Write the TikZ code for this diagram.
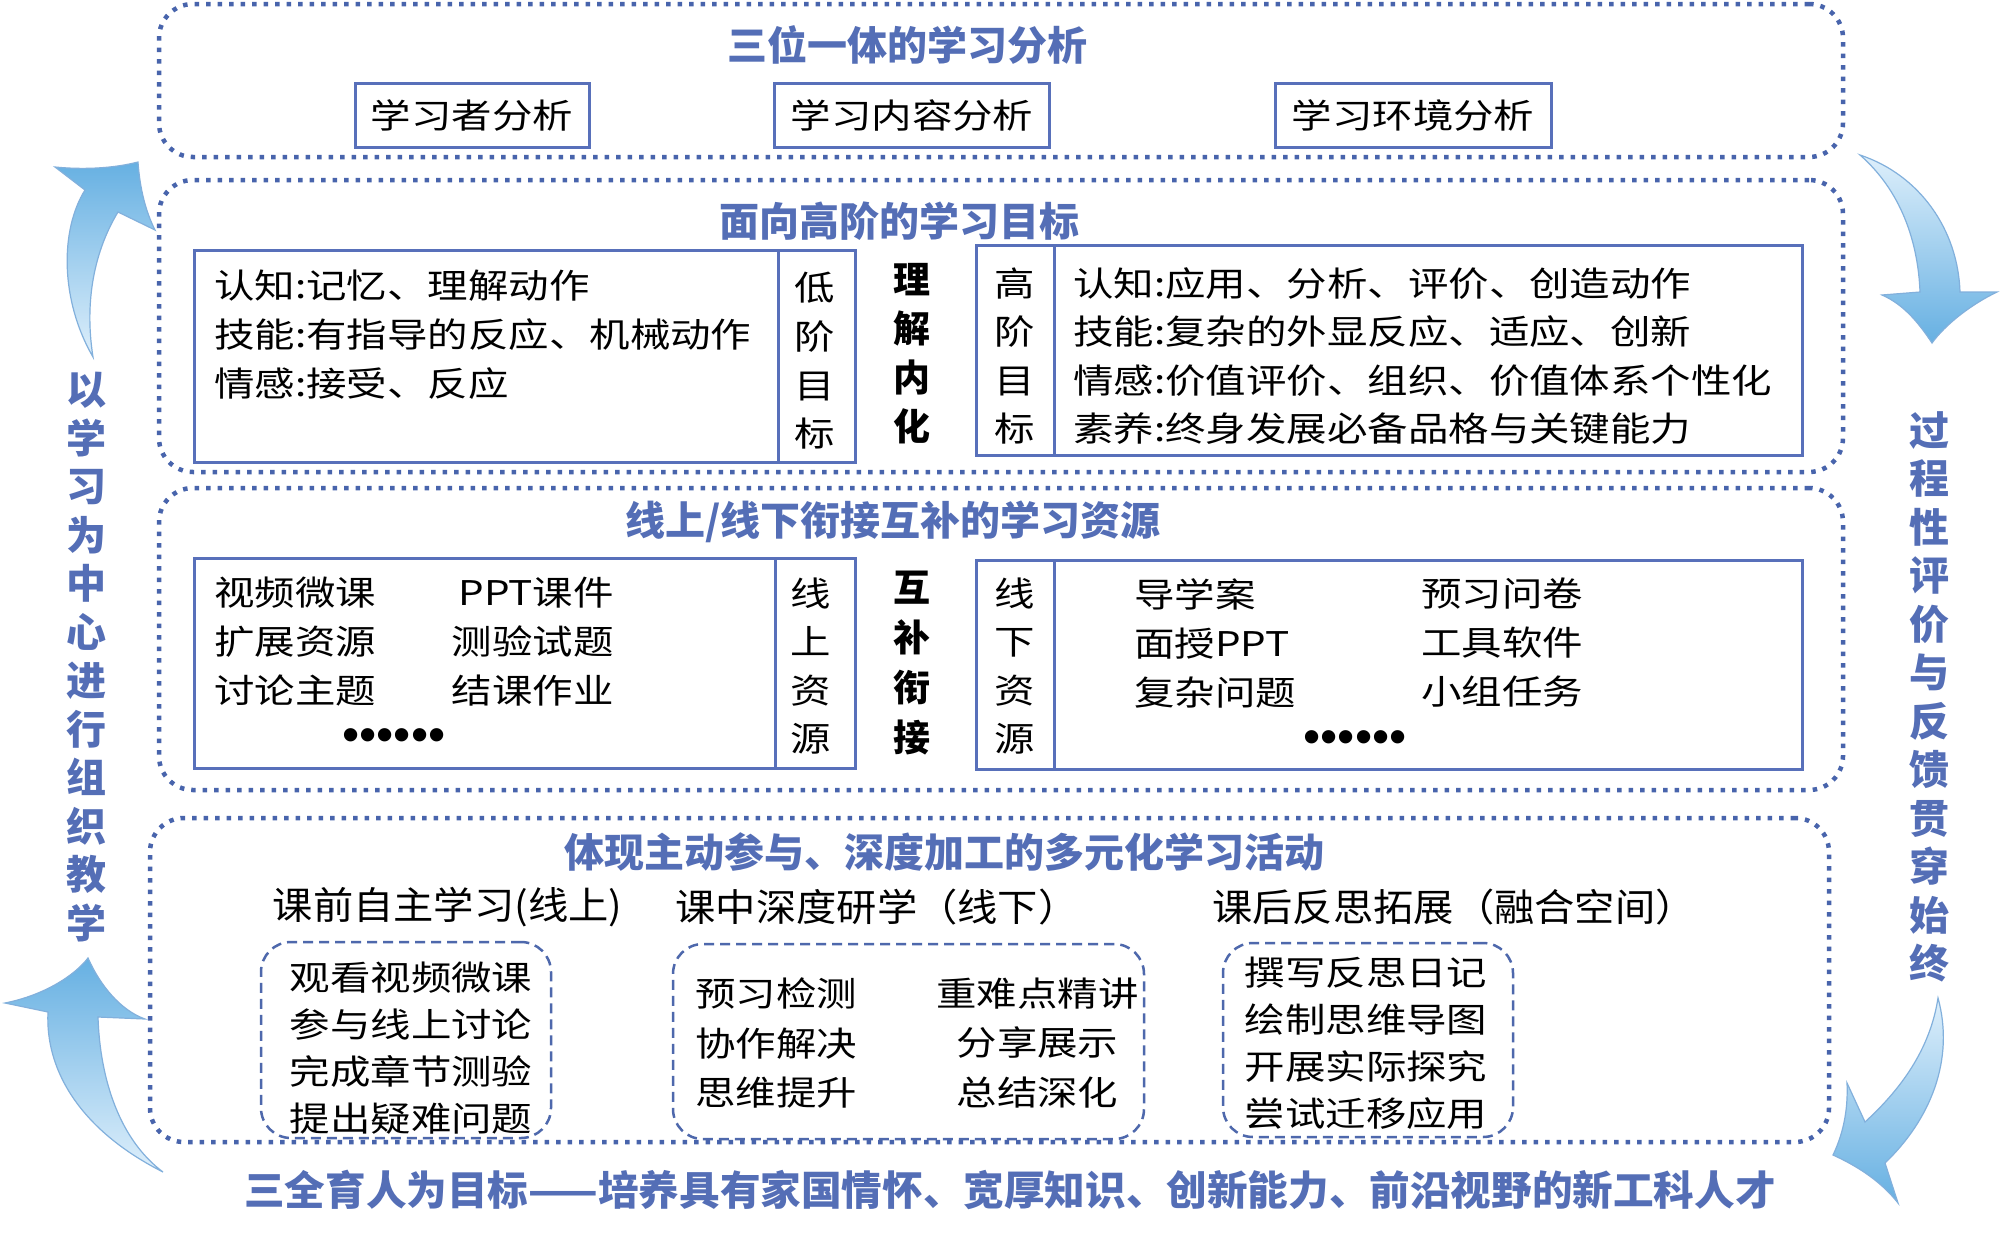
\documentclass[tikz,border=0pt]{standalone}
\usepackage{fontspec}
\newfontfamily\cjk{Noto Sans CJK SC}
\newfontfamily\cjkw[FakeStretch=1.19]{Noto Sans CJK SC}
\newfontfamily\cjks[FakeStretch=1.06]{Noto Sans CJK SC}
\newfontfamily\dotfont{Liberation Sans}
\definecolor{titleblue}{RGB}{84,110,182}
\definecolor{dotblue}{RGB}{72,100,172}
\definecolor{boxblue}{RGB}{88,112,186}
\definecolor{dashblue}{RGB}{78,104,172}
\definecolor{arrowhead}{RGB}{102,176,226}
\definecolor{arrowtail}{RGB}{222,239,251}
\definecolor{arrowedge}{RGB}{130,176,220}
\begin{document}
\begin{tikzpicture}[x=1pt,y=-1pt,
  outer/.style={draw=dotblue, line width=4.5pt, dash pattern=on 4.5pt off 7pt, rounded corners=34pt, inner sep=0pt},
  ibox/.style={draw=boxblue, line width=3pt, inner sep=0pt},
  dbox/.style={draw=dashblue, line width=2.5pt, dash pattern=on 10pt off 6pt, rounded corners=30pt, inner sep=0pt},
  ttl/.style={font=\fontsize{40}{48}\cjk\bfseries, text=titleblue, inner sep=0pt},
  body/.style={font=\fontsize{34}{#1}\cjkw, inner sep=0pt, align=left},
  cbody/.style={font=\fontsize{34}{#1}\cjkw, inner sep=0pt, align=center},
  rbody/.style={font=\fontsize{34}{#1}\cjkw, inner sep=0pt, align=right},
  keyw/.style={font=\fontsize{37}{#1}\cjk\bfseries, inner sep=0pt, align=center},
  sub/.style={font=\fontsize{38}{44}\cjks, inner sep=0pt},
  side/.style={font=\fontsize{40}{48.5}\cjk\bfseries, text=titleblue, align=center, inner sep=0pt},
  dots/.style={font=\fontsize{49}{56}\dotfont, inner sep=0pt},
  bigarrow/.style={draw=arrowedge, line width=1.2pt}
]
\fill[white] (0,0) rectangle (2000,1237);

% ---------- outer dotted panels ----------
\node[outer, minimum width=1684pt, minimum height=153pt] (o1) at (1001,80.5) {};
\node[outer, minimum width=1684pt, minimum height=292pt] (o2) at (1001,326) {};
\node[outer, minimum width=1684pt, minimum height=302pt] (o3) at (1001,639) {};
\node[outer, minimum width=1679pt, minimum height=324pt] (o4) at (989.5,980) {};

% ---------- panel 1 ----------
\node[ttl] (t1) at (907,45) {三位一体的学习分析};
\node[ibox, minimum width=234pt, minimum height=64pt, font=\fontsize{34}{40}\cjkw] (a1) at (472,115) {学习者分析};
\node[ibox, minimum width=275pt, minimum height=64pt, font=\fontsize{34}{40}\cjkw] (a2) at (912,115) {学习内容分析};
\node[ibox, minimum width=276pt, minimum height=64pt, font=\fontsize{34}{40}\cjkw] (a3) at (1413,115) {学习环境分析};

% ---------- panel 2 ----------
\node[ttl] (t2) at (899,221) {面向高阶的学习目标};
\node[ibox, minimum width=661pt, minimum height=212pt] (gl) at (524.5,356) {};
\draw[boxblue, line width=3pt] (778,250) -- (778,462);
\node[ibox, minimum width=826pt, minimum height=210pt] (gr) at (1389,350) {};
\draw[boxblue, line width=3pt] (1054,245) -- (1054,455);
\node[body=49, anchor=west] (glt) at (214,335) {认知:记忆、理解动作\\技能:有指导的反应、机械动作\\情感:接受、反应};
\node[cbody=48.7] (low) at (815,361) {低\\阶\\目\\标};
\node[keyw=49] (k1) at (912,354) {理\\解\\内\\化};
\node[cbody=48.3] (high) at (1015,356) {高\\阶\\目\\标};
\node[body=48.3, anchor=west] (grt) at (1073,356) {认知:应用、分析、评价、创造动作\\技能:复杂的外显反应、适应、创新\\情感:价值评价、组织、价值体系个性化\\素养:终身发展必备品格与关键能力};

% ---------- panel 3 ----------
\node[ttl] (t3) at (893,522) {线上/线下衔接互补的学习资源};
\node[ibox, minimum width=661pt, minimum height=210pt] (rl) at (524.5,663) {};
\draw[boxblue, line width=3pt] (775,558) -- (775,768);
\node[ibox, minimum width=826pt, minimum height=209pt] (rr) at (1389,664.5) {};
\draw[boxblue, line width=3pt] (1054,560) -- (1054,769);
\node[body=49, anchor=west] (rl1) at (214,642) {视频微课\\扩展资源\\讨论主题};
\node[rbody=49, anchor=east] (rl2) at (614,642) {PPT课件\\测验试题\\结课作业};
\node[dots] (rld) at (394,740) {••••••};
\node[cbody=48.3] (on) at (811,666) {线\\上\\资\\源};
\node[keyw=49.7] (k2) at (912,663) {互\\补\\衔\\接};
\node[cbody=48.3] (off) at (1015,666) {线\\下\\资\\源};
\node[body=49, anchor=west] (rr1) at (1134,643) {导学案\\面授PPT\\复杂问题};
\node[body=49, anchor=west] (rr2) at (1421,643) {预习问卷\\工具软件\\小组任务};
\node[dots] (rrd) at (1355,742) {••••••};

% ---------- panel 4 ----------
\node[ttl] (t4) at (944,852) {体现主动参与、深度加工的多元化学习活动};
\node[sub] (s1) at (447.5,907) {课前自主学习(线上)};
\node[sub] (s2) at (877,907) {课中深度研学（线下）};
\node[sub] (s3) at (1454,907) {课后反思拓展（融合空间）};
\node[dbox, minimum width=290pt, minimum height=196pt] (d1) at (406,1040) {};
\node[dbox, minimum width=471pt, minimum height=195pt] (d2) at (908.5,1041.5) {};
\node[dbox, minimum width=290pt, minimum height=194pt] (d3) at (1368,1040) {};
\node[cbody=47] (d1t) at (411,1048) {观看视频微课\\参与线上讨论\\完成章节测验\\提出疑难问题};
\node[body=49.5, anchor=west] (d2a) at (695,1043) {预习检测\\协作解决\\思维提升};
\node[cbody=49.5] (d2b) at (1037.5,1043) {重难点精讲\\分享展示\\总结深化};
\node[cbody=47] (d3t) at (1366,1043) {撰写反思日记\\绘制思维导图\\开展实际探究\\尝试迁移应用};

% ---------- bottom & side texts ----------
\node[ttl, font=\fontsize{40.6}{48}\cjk\bfseries] (goal) at (1010,1190) {三全育人为目标——培养具有家国情怀、宽厚知识、创新能力、前沿视野的新工科人才};
\node[side] (lside) at (86,657) {以\\学\\习\\为\\中\\心\\进\\行\\组\\织\\教\\学};
\node[side] (rside) at (1929,697) {过\\程\\性\\评\\价\\与\\反\\馈\\贯\\穿\\始\\终};

% ---------- big curved arrows ----------
\path[bigarrow, top color=arrowhead, bottom color=arrowtail]
  (93,357) .. controls (60,300) and (60,230) .. (85,190) -- (55,167)
  .. controls (85,170) and (115,168) .. (138,162)
  .. controls (140,190) and (146,212) .. (155,230) -- (118,212)
  .. controls (95,250) and (84,300) .. (93,357) -- cycle;
\path[bigarrow, top color=arrowhead, bottom color=arrowtail]
  (163,1172) .. controls (80,1130) and (45,1070) .. (48,1012) -- (5,1003)
  .. controls (45,995) and (75,975) .. (88,958)
  .. controls (100,985) and (120,1010) .. (145,1019) -- (98,1017)
  .. controls (100,1080) and (120,1140) .. (163,1172) -- cycle;
\path[bigarrow, top color=arrowtail, bottom color=arrowhead]
  (1860,155) .. controls (1920,175) and (1958,230) .. (1960,292) -- (1997,292)
  .. controls (1970,305) and (1945,325) .. (1932,343)
  .. controls (1920,325) and (1905,305) .. (1882,295) -- (1920,292)
  .. controls (1918,240) and (1900,190) .. (1860,155) -- cycle;
\path[bigarrow, top color=arrowtail, bottom color=arrowhead]
  (1938,998) .. controls (1955,1060) and (1930,1120) .. (1885,1163) -- (1898,1203)
  .. controls (1880,1180) and (1855,1165) .. (1833,1155)
  .. controls (1845,1130) and (1848,1105) .. (1847,1083) -- (1865,1122)
  .. controls (1900,1090) and (1930,1050) .. (1938,998) -- cycle;
\end{tikzpicture}
\end{document}
